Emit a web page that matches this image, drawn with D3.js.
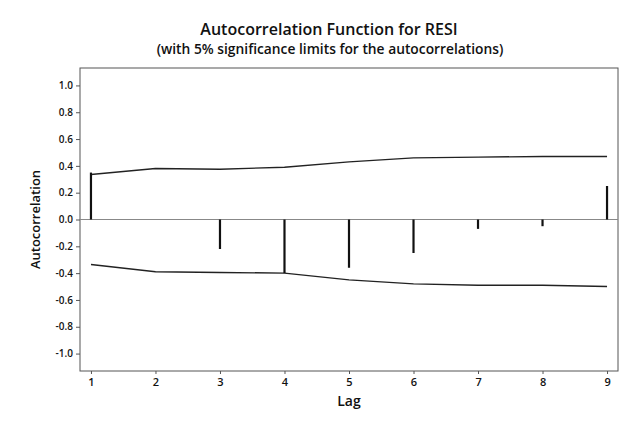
<!DOCTYPE html>
<html>
<head>
<meta charset="utf-8">
<script src="https://cdn.jsdelivr.net/npm/d3@7"></script>
<style>
  html, body { margin: 0; padding: 0; background: #fff; }
  svg { display: block; }
  text { font-family: "Open Sans", "Noto Sans", sans-serif; fill: #111; }
</style>
</head>
<body>
<svg id="chart" width="637" height="423"></svg>
<script>
// ---- data ----
const lags = [1, 2, 3, 4, 5, 6, 7, 8, 9];
const acf = [0.35, 0.00, -0.22, -0.40, -0.36, -0.25, -0.07, -0.05, 0.25];
const upperLimit = [0.336, 0.38, 0.375, 0.39, 0.43, 0.46, 0.465, 0.47, 0.47];
const lowerLimit = [-0.336, -0.39, -0.395, -0.40, -0.45, -0.48, -0.49, -0.49, -0.50];
const yTicks = [-1.0, -0.8, -0.6, -0.4, -0.2, 0.0, 0.2, 0.4, 0.6, 0.8, 1.0];
const titleText = "Autocorrelation Function for RESI";
const subtitleText = "(with 5% significance limits for the autocorrelations)";
const xLabel = "Lag";
const yLabel = "Autocorrelation";

// ---- layout ----
const svg = d3.select("#chart");
const frame = { left: 80, right: 618, top: 68, bottom: 371 };

const x = d3.scaleLinear().domain([0.83, 9.17]).range([frame.left, frame.right]);
const y = d3.scaleLinear().domain([-1.13, 1.13]).range([frame.bottom, frame.top]);

// titles
svg.append("text").attr("x", 329).attr("y", 35).attr("text-anchor", "middle")
  .style("font-size", "16px").style("font-weight", 600).text(titleText);
svg.append("text").attr("x", 330).attr("y", 54).attr("text-anchor", "middle")
  .style("font-size", "13.8px").style("font-weight", 600).text(subtitleText);

// frame
svg.append("rect")
  .attr("x", frame.left).attr("y", frame.top)
  .attr("width", frame.right - frame.left).attr("height", frame.bottom - frame.top)
  .attr("fill", "none").attr("stroke", "#555").attr("stroke-width", 1);

// y axis
const fmt = d3.format(".1f");
const yAxis = d3.axisLeft(y).tickValues(yTicks).tickSize(4).tickPadding(3)
  .tickFormat(d => fmt(d).replace("\u2212", "-"));
const gy = svg.append("g").attr("transform", `translate(${frame.left},0)`).call(yAxis);
gy.select(".domain").remove();
gy.selectAll(".tick line").attr("stroke", "#555");
gy.selectAll(".tick text").style("font-size", "10px").style("font-weight", 600)
  .style("font-family", "'Open Sans', sans-serif").attr("fill", "#111");

// x axis
const xAxis = d3.axisBottom(x).tickValues(lags).tickSize(3).tickPadding(4)
  .tickFormat(d3.format("d"));
const gx = svg.append("g").attr("transform", `translate(0,${frame.bottom})`).call(xAxis);
gx.select(".domain").remove();
gx.selectAll(".tick line").attr("stroke", "#555");
gx.selectAll(".tick text").style("font-size", "11px").style("font-weight", 600)
  .style("font-family", "'Open Sans', sans-serif").attr("fill", "#111");

// axis labels
svg.append("text").attr("x", (frame.left + frame.right) / 2).attr("y", 406)
  .attr("text-anchor", "middle").style("font-size", "14px").style("font-weight", 600)
  .text(xLabel);
svg.append("text").attr("transform", `translate(40,${y(0)}) rotate(-90)`)
  .attr("text-anchor", "middle").style("font-size", "13px").style("font-weight", 600)
  .text(yLabel);

// zero reference line
svg.append("line")
  .attr("x1", frame.left).attr("x2", frame.right)
  .attr("y1", y(0)).attr("y2", y(0))
  .attr("stroke", "#888").attr("stroke-width", 1);

// significance limits
const line = d3.line().x(d => x(d[0])).y(d => y(d[1]));
svg.append("path").datum(lags.map((l, i) => [l, upperLimit[i]]))
  .attr("d", line).attr("fill", "none").attr("stroke", "#222").attr("stroke-width", 1.4);
svg.append("path").datum(lags.map((l, i) => [l, lowerLimit[i]]))
  .attr("d", line).attr("fill", "none").attr("stroke", "#222").attr("stroke-width", 1.4);

// ACF spikes
svg.append("g").selectAll("line").data(lags.map((l, i) => [l, acf[i]]))
  .join("line")
  .attr("x1", d => x(d[0])).attr("x2", d => x(d[0]))
  .attr("y1", y(0)).attr("y2", d => y(d[1]))
  .attr("stroke", "#111").attr("stroke-width", 2.2);
</script>
</body>
</html>
